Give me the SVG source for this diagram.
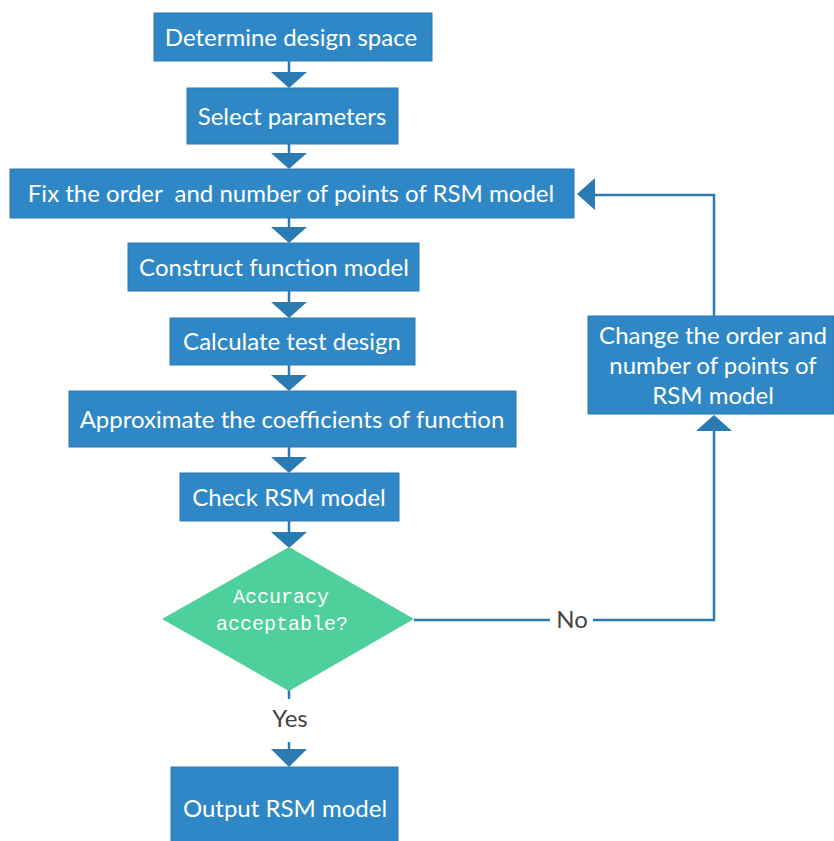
<svg xmlns="http://www.w3.org/2000/svg" width="834" height="841" viewBox="0 0 834 841">
<style>
.box{fill:#2f88c5;stroke:#2a7bb3;stroke-width:1}
.t{font-family:Lato,"Open Sans","Liberation Sans",sans-serif;font-size:24px;fill:#ffffff;text-anchor:middle}
.lbl{font-family:Lato,"Open Sans","Liberation Sans",sans-serif;font-size:24px;fill:#444444;text-anchor:middle}
.dt{font-family:"Liberation Mono","DejaVu Sans Mono",monospace;font-size:20px;fill:#ffffff;text-anchor:middle}
.ln{fill:none;stroke:#2a7bb3;stroke-width:2.5}
.ah{fill:#2a7bb3}
</style>
<rect width="834" height="841" fill="#ffffff"/>
<g id="connectors">
<path class="ln" d="M289 61V74M289 144V156M289 218V230M289 291V304M289 365V378M289 447V460M289 521V534"/>
<polygon class="ah" points="271,72 307,72 289,88"/>
<polygon class="ah" points="271,153 307,153 289,169"/>
<polygon class="ah" points="271,227 307,227 289,243"/>
<polygon class="ah" points="271,302 307,302 289,318"/>
<polygon class="ah" points="271,375 307,375 289,391"/>
<polygon class="ah" points="271,457 307,457 289,473"/>
<polygon class="ah" points="271,532 307,532 289,548"/>
<path class="ln" d="M289 690V699M289 742V750"/>
<polygon class="ah" points="271,749 307,749 289,767"/>
<path class="ln" d="M414 620H550M593 620H714V428"/>
<polygon class="ah" points="696,431 732,431 714,415"/>
<path class="ln" d="M714 316V195H592"/>
<polygon class="ah" points="577,194 595,178 595,210"/>
<text class="lbl" x="572" y="628">No</text>
<text class="lbl" x="290" y="727">Yes</text>
</g>
<g id="n1"><rect class="box" x="154" y="13" width="278" height="48"/><text class="t" x="291" y="46">Determine design space</text></g>
<g id="n2"><rect class="box" x="187" y="88" width="211" height="56"/><text class="t" x="292" y="125">Select parameters</text></g>
<g id="n3"><rect class="box" x="10" y="169" width="564" height="49"/><text class="t" x="291" y="202" xml:space="preserve">Fix the order  and number of points of RSM model</text></g>
<g id="n4"><rect class="box" x="128" y="243" width="291" height="48"/><text class="t" x="274" y="276">Construct function model</text></g>
<g id="n5"><rect class="box" x="170" y="318" width="245" height="47"/><text class="t" x="292" y="350">Calculate test design</text></g>
<g id="n6"><rect class="box" x="69" y="391" width="447" height="56"/><text class="t" x="292" y="428">Approximate the coefficients of function</text></g>
<g id="n7"><rect class="box" x="180" y="473" width="219" height="48"/><text class="t" x="289" y="506">Check RSM model</text></g>
<g id="n8"><polygon points="289,547 414,619 289,691 162,619" fill="#4dd09b"/><text class="dt" x="281" y="603">Accuracy</text><text class="dt" x="282" y="630">acceptable?</text></g>
<g id="n9"><rect class="box" x="588" y="316" width="246" height="98"/><text class="t" x="713" y="344">Change the order and</text><text class="t" x="713" y="374">number of points of</text><text class="t" x="713" y="404">RSM model</text></g>
<g id="n10"><rect class="box" x="171" y="767" width="227" height="76"/><text class="t" x="285" y="817">Output RSM model</text></g>
</svg>
